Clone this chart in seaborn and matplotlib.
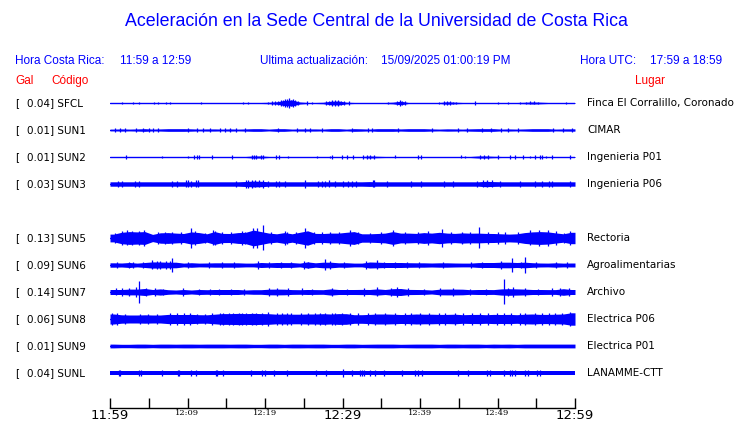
import numpy as np
import matplotlib
matplotlib.use("Agg")
import matplotlib.pyplot as plt
import seaborn as sns

# --- text content -----------------------------------------------------------
title = "Aceleración en la Sede Central de la Universidad de Costa Rica"
hora_cr = "11:59 a 12:59"
actualizacion = "15/09/2025 01:00:19 PM"
hora_utc = "17:59 a 18:59"

# one row per slot, '' is the empty slot (no SUN4)
row_codes = ['SFCL', 'SUN1', 'SUN2', 'SUN3', '', 'SUN5', 'SUN6', 'SUN7', 'SUN8', 'SUN9', 'SUNL']
gal = {'SFCL': 0.04, 'SUN1': 0.01, 'SUN2': 0.01, 'SUN3': 0.03, 'SUN5': 0.13,
       'SUN6': 0.09, 'SUN7': 0.14, 'SUN8': 0.06, 'SUN9': 0.01, 'SUNL': 0.04}
lugar = {'SFCL': 'Finca El Corralillo, Coronado', 'SUN1': 'CIMAR', 'SUN2': 'Ingenieria P01',
         'SUN3': 'Ingenieria P06', 'SUN5': 'Rectoria', 'SUN6': 'Agroalimentarias',
         'SUN7': 'Archivo', 'SUN8': 'Electrica P06', 'SUN9': 'Electrica P01',
         'SUNL': 'LANAMME-CTT'}

tick_minutes = list(range(0, 61, 5))
tick_labels = ['11:59', '', '12:09', '', '12:19', '', '12:29', '', '12:39', '', '12:49', '', '12:59']
big_labels = ['11:59', '12:29', '12:59']

# --- trace envelopes: half amplitude per minute ------------------------------
SFCL_ENV = [0.5, 0.5, 0.5, 0.5, 0.5, 0.5, 0.5, 0.5, 0.5, 0.5,
            0.5, 0.5, 0.5, 0.5, 0.5, 0.5, 0.5, 0.5, 0.5, 0.5,
            0.7, 1.2, 2.6, 3.0, 1.0, 0.5, 0.5, 0.7, 1.8, 2.0,
            0.8, 0.5, 0.5, 0.5, 0.5, 0.5, 0.8, 1.8, 0.5, 0.5,
            0.5, 0.5, 0.5, 1.2, 0.8, 0.5, 0.5, 0.5, 0.5, 0.5,
            0.5, 0.5, 0.5, 0.7, 1.0, 0.8, 0.5, 0.5, 0.5, 0.5]
SFCL_SPIKES = [(1.6, 1.4), (3.0, 1.3), (3.8, 1.3), (5.7, 1.3), (6.2, 1.4), (7.2, 1.4),
               (7.7, 1.2), (11.7, 1.4), (17.2, 1.2), (17.8, 1.3), (20.4, 1.4), (20.9, 1.6),
               (21.3, 2.0), (21.7, 2.4), (22.0, 3.4), (22.3, 3.0), (22.6, 4.2), (22.9, 3.6),
               (23.1, 4.6), (23.4, 3.2), (23.6, 3.8), (23.9, 2.6), (24.2, 2.0), (25.4, 1.6),
               (26.0, 1.2), (27.9, 1.8), (28.3, 2.4), (28.7, 2.6), (29.0, 3.0), (29.4, 2.6),
               (29.8, 2.2), (30.2, 1.6), (30.8, 1.6), (35.9, 1.3), (37.0, 2.4), (37.4, 2.8),
               (37.7, 2.4), (38.0, 1.6), (42.4, 1.3), (43.1, 1.8), (43.5, 2.0), (43.9, 1.6),
               (44.2, 1.4), (44.7, 1.4), (47.1, 1.6), (50.1, 1.3), (51.4, 1.3), (52.9, 1.2),
               (53.7, 1.4), (54.2, 1.5), (54.7, 1.5), (55.2, 1.4), (58.9, 1.2)]

SUN1_ENV = [0.8, 1.0, 0.8, 1.0, 1.3, 0.8, 1.0, 1.3, 1.3, 1.3,
            1.1, 0.8, 1.0, 1.0, 0.8, 1.0, 0.8, 1.0, 1.3, 1.3,
            0.8, 1.3, 1.3, 0.8, 1.0, 1.0, 1.0, 0.8, 1.3, 1.3,
            0.8, 1.3, 1.1, 0.8, 1.3, 1.3, 1.3, 1.0, 1.3, 1.3,
            1.3, 1.0, 0.8, 1.1, 1.0, 0.8, 1.1, 1.3, 1.3, 1.3,
            0.8, 1.0, 0.8, 1.0, 1.3, 1.3, 1.3, 0.8, 1.0, 1.1]
SUN1_SPIKES = [(0.6, 1.7), (1.3, 1.7), (1.9, 1.7), (3.4, 1.7), (4.2, 2.1), (5.0, 1.7),
               (5.5, 1.7), (6.2, 1.7), (10.1, 1.7), (11.2, 1.7), (12.0, 1.7), (12.9, 1.7),
               (14.2, 1.7), (14.8, 1.7), (15.5, 1.7), (16.3, 1.7), (17.4, 1.7), (21.7, 1.8),
               (24.1, 1.7), (25.1, 1.7), (25.8, 1.7), (27.3, 1.7), (31.2, 1.8), (33.3, 1.7),
               (33.8, 1.7), (37.2, 1.7), (41.5, 1.7), (44.9, 1.7), (46.0, 1.7), (48.0, 1.7),
               (49.2, 1.9), (50.5, 1.7), (51.4, 1.7), (52.7, 1.7), (57.2, 1.7), (58.5, 1.7),
               (59.6, 1.7)]

SUN2_ENV = [0.5, 0.5, 0.5, 0.5, 0.5, 0.5, 0.5, 0.5, 0.5, 0.5,
            0.5, 0.5, 0.5, 0.5, 0.5, 0.5, 0.5, 0.5, 1.0, 1.0,
            0.5, 0.5, 0.5, 0.5, 0.5, 0.5, 0.5, 0.5, 0.5, 0.5,
            0.5, 0.5, 0.5, 1.0, 0.7, 0.5, 0.5, 0.5, 0.5, 0.5,
            0.5, 0.5, 0.5, 0.5, 0.5, 0.5, 0.5, 1.0, 1.0, 0.7,
            0.5, 0.5, 0.5, 0.5, 0.5, 0.5, 0.5, 0.5, 0.5, 0.5]
SUN2_SPIKES = [(2.0, 1.8), (6.7, 1.2), (10.1, 1.3), (10.9, 1.8), (11.2, 1.8), (11.5, 1.8),
               (13.2, 1.8), (15.7, 1.8), (18.3, 1.9), (18.6, 1.9), (18.9, 1.6), (19.5, 1.9),
               (19.8, 1.9), (21.4, 1.8), (21.8, 1.8), (23.0, 1.2), (26.7, 1.3), (28.4, 1.3),
               (28.6, 1.6), (29.9, 1.6), (30.6, 1.8), (31.4, 1.9), (32.7, 1.8), (33.1, 1.6),
               (33.6, 1.9), (34.0, 1.9), (36.8, 1.5), (39.8, 1.8), (40.1, 1.6), (45.3, 1.5),
               (45.8, 1.2), (47.8, 1.9), (48.3, 1.9), (48.8, 1.9), (50.1, 1.8), (51.6, 1.8),
               (52.3, 1.6), (53.3, 1.8), (54.2, 1.3), (54.8, 1.8), (55.5, 1.8), (55.7, 1.8),
               (56.3, 1.3), (57.0, 1.8), (59.4, 1.6)]

SUN3_ENV = [2.2, 2.2, 2.2, 2.2, 2.2, 2.2, 2.2, 2.2, 2.2, 2.2,
            2.2, 2.2, 2.2, 2.2, 2.2, 2.2, 2.2, 2.5, 2.9, 2.7,
            2.2, 2.2, 2.2, 2.2, 2.2, 2.2, 2.2, 2.2, 2.2, 2.2,
            2.2, 2.2, 2.2, 2.4, 2.2, 2.2, 2.2, 2.2, 2.2, 2.2,
            2.2, 2.2, 2.2, 2.2, 2.2, 2.2, 2.2, 2.2, 2.7, 2.4,
            2.2, 2.2, 2.2, 2.2, 2.2, 2.2, 2.2, 2.2, 2.2, 2.2]
SUN3_SPIKES = [(1.0, 3.3), (1.5, 3.3), (3.2, 3.2), (3.7, 3.3), (8.0, 3.0), (8.7, 3.3),
               (9.8, 3.5), (10.0, 3.5), (10.5, 3.3), (11.1, 3.5), (11.4, 3.5), (16.3, 3.3),
               (17.5, 3.6), (17.8, 3.6), (18.3, 4.0), (18.7, 3.5), (19.2, 3.5), (19.7, 3.6),
               (20.4, 3.0), (21.4, 3.3), (21.8, 3.3), (22.6, 3.3), (25.2, 3.6), (26.9, 3.3),
               (27.3, 3.3), (27.7, 3.3), (28.3, 3.5), (29.0, 3.0), (30.0, 3.3), (30.7, 3.3),
               (31.2, 3.3), (31.8, 3.0), (33.9, 3.5), (34.1, 3.5), (35.8, 3.3), (38.9, 3.3),
               (40.1, 3.3), (43.1, 3.3), (44.2, 3.3), (47.4, 3.3), (48.1, 3.5), (48.7, 3.5),
               (49.3, 3.5), (50.3, 3.3), (52.9, 3.3), (54.8, 3.3), (55.7, 3.3), (56.6, 3.3),
               (57.0, 3.3), (59.4, 3.3)]

SUN5_ENV = [3.9, 5.7, 6.4, 6.1, 6.4, 3.6, 5.2, 5.4, 4.9, 4.5,
            6.1, 5.4, 4.2, 6.4, 4.6, 4.5, 5.4, 5.7, 7.9, 6.4,
            4.9, 4.2, 5.4, 4.2, 5.7, 7.2, 4.6, 4.5, 4.9, 4.9,
            5.7, 6.4, 4.2, 4.2, 4.5, 4.9, 6.4, 4.9, 4.9, 4.6,
            5.4, 4.9, 5.7, 4.9, 4.6, 5.1, 4.8, 4.9, 4.6, 4.5,
            4.2, 3.9, 4.2, 5.4, 6.1, 6.4, 6.1, 5.1, 4.2, 5.7]
SUN5_SPIKES = [(0.6, 5.2), (1.5, 6.7), (2.2, 7.5), (2.8, 6.9), (3.7, 6.7), (4.4, 8.2),
               (6.2, 6.1), (7.1, 6.4), (8.0, 6.0), (9.2, 5.6), (10.5, 9.7), (11.0, 6.7),
               (12.2, 5.2), (13.3, 7.5), (13.5, 7.2), (14.4, 6.1), (15.6, 5.6), (17.0, 6.9),
               (17.4, 6.4), (18.5, 10.2), (19.0, 10.2), (19.8, 12.5), (20.8, 6.0), (22.6, 6.9),
               (22.8, 6.4), (24.0, 6.2), (25.2, 10.0), (26.3, 5.8), (27.3, 6.1), (28.4, 5.8),
               (29.5, 6.1), (31.0, 7.9), (32.0, 5.7), (33.6, 5.4), (35.0, 5.8), (36.5, 8.4),
               (38.0, 6.1), (39.8, 6.1), (41.0, 7.2), (42.8, 9.0), (44.0, 5.8), (45.4, 6.4),
               (46.5, 5.8), (47.6, 10.5), (48.8, 5.6), (50.0, 6.0), (51.0, 5.7), (52.6, 5.6),
               (54.2, 7.5), (55.3, 8.4), (56.5, 8.2), (57.6, 6.6), (58.6, 5.4), (59.4, 6.9)]

SUN6_ENV = [2.2, 2.0, 2.5, 1.9, 2.5, 3.1, 3.0, 2.8, 2.8, 1.9,
            2.3, 1.9, 2.0, 2.2, 2.2, 2.2, 2.2, 1.9, 1.9, 2.5,
            2.2, 2.5, 2.4, 2.4, 1.9, 3.1, 2.2, 2.8, 2.8, 2.2,
            2.3, 1.9, 1.9, 3.0, 2.8, 2.5, 2.5, 2.5, 2.3, 2.2,
            2.2, 2.0, 2.2, 2.2, 2.0, 1.9, 1.9, 2.4, 2.5, 2.5,
            2.8, 2.8, 2.5, 2.8, 2.3, 2.0, 1.9, 2.2, 1.9, 2.0]
SUN6_SPIKES = [(0.9, 3.0), (2.4, 3.3), (3.0, 3.2), (4.2, 3.2), (5.4, 4.5), (6.0, 3.6),
               (6.5, 3.8), (7.2, 3.6), (7.8, 4.2), (8.0, 7.0), (10.0, 2.8), (12.8, 2.8),
               (14.5, 2.8), (16.0, 2.9), (19.1, 3.8), (20.5, 3.2), (22.0, 3.2), (23.4, 3.0),
               (25.0, 3.8), (25.6, 3.4), (27.7, 5.5), (28.4, 3.6), (30.2, 3.0), (33.0, 3.8),
               (34.4, 4.5), (35.3, 3.2), (36.8, 3.3), (38.3, 3.0), (39.9, 2.9), (43.0, 2.9),
               (46.6, 3.0), (48.0, 3.2), (50.5, 3.8), (51.9, 7.2), (53.0, 3.4), (53.6, 7.6),
               (55.0, 3.0), (57.6, 2.8), (59.0, 2.8)]

SUN7_ENV = [2.5, 2.5, 2.9, 2.9, 3.5, 2.5, 3.1, 2.3, 2.0, 2.5,
            2.0, 2.5, 2.3, 2.5, 2.5, 2.5, 2.5, 2.0, 2.3, 2.3,
            2.8, 2.9, 2.8, 2.4, 2.3, 2.5, 2.4, 2.3, 3.1, 2.5,
            2.5, 2.5, 2.6, 2.5, 3.1, 2.5, 3.3, 3.5, 2.6, 2.5,
            2.4, 2.0, 2.8, 2.9, 2.9, 2.8, 2.3, 2.5, 2.5, 2.4,
            3.1, 3.3, 3.1, 2.9, 2.5, 2.5, 2.4, 2.4, 3.3, 2.5]
SUN7_SPIKES = [(0.8, 3.5), (1.6, 3.6), (2.4, 3.8), (3.4, 5.0), (3.75, 11.0), (4.6, 4.0),
               (5.8, 4.2), (6.8, 3.2), (9.4, 3.6), (11.5, 3.3), (12.9, 3.4), (14.0, 3.4),
               (15.6, 3.3), (17.3, 3.2), (20.5, 4.0), (21.6, 3.8), (23.0, 3.6), (24.8, 3.5),
               (26.0, 3.4), (28.6, 4.2), (30.6, 3.4), (32.8, 3.6), (34.5, 4.5), (36.2, 4.2),
               (37.0, 4.8), (38.4, 3.6), (40.5, 3.2), (42.6, 3.8), (44.2, 3.8), (46.5, 3.3),
               (48.5, 3.4), (50.8, 12.5), (51.4, 4.2), (52.0, 5.0), (53.6, 3.6), (55.2, 3.4),
               (57.0, 3.6), (58.0, 4.4), (59.2, 3.6)]

SUN8_ENV = [5.0, 4.2, 4.0, 4.0, 4.2, 4.0, 4.0, 4.6, 4.5, 4.5,
            4.6, 4.3, 4.2, 4.8, 5.4, 5.4, 5.6, 5.4, 5.6, 5.4,
            5.3, 4.8, 5.0, 4.8, 4.8, 5.0, 5.0, 5.3, 5.0, 5.4,
            5.3, 4.3, 4.3, 4.6, 5.0, 5.0, 4.8, 4.5, 4.6, 5.0,
            4.8, 4.8, 4.6, 4.6, 4.8, 4.3, 4.5, 4.6, 4.3, 4.6,
            4.5, 4.6, 4.3, 4.8, 5.0, 4.6, 4.6, 4.8, 5.0, 6.2]
SUN8_SPIKES = [(0.2, 6.0), (0.9, 6.0), (1.9, 5.2), (3.9, 5.2), (4.9, 5.2), (6.0, 5.2),
               (7.7, 5.6), (8.6, 5.6), (9.5, 5.6), (10.3, 5.6), (11.2, 5.4), (12.3, 5.4),
               (13.1, 5.6), (14.2, 6.4), (14.6, 6.4), (15.3, 6.4), (15.9, 6.4), (16.6, 6.4),
               (17.0, 6.4), (17.6, 6.4), (18.3, 6.4), (18.9, 6.4), (19.6, 6.4), (20.4, 6.6),
               (21.5, 6.0), (22.2, 6.0), (22.8, 6.0), (23.4, 6.0), (24.7, 6.0), (25.6, 6.0),
               (26.5, 6.0), (27.1, 6.0), (27.7, 6.0), (28.6, 6.2), (29.0, 6.0), (29.9, 6.4),
               (31.0, 5.6), (32.0, 5.6), (33.3, 5.8), (34.2, 5.8), (35.5, 6.0), (36.8, 6.2),
               (38.1, 5.8), (38.9, 5.8), (40.0, 5.8), (41.1, 5.8), (42.4, 5.8), (43.2, 5.8),
               (44.5, 5.6), (45.6, 5.6), (46.7, 5.6), (47.7, 5.6), (48.8, 5.6), (49.9, 5.6),
               (50.8, 5.6), (51.8, 5.6), (52.9, 5.6), (53.5, 5.8), (54.8, 6.2), (55.7, 5.6),
               (56.6, 5.6), (57.4, 5.8), (58.3, 5.8), (59.4, 6.8)]

SUN9_ENV = [1.9, 1.7, 1.7, 1.9, 1.9, 1.7, 1.9, 1.9, 1.8, 1.9,
            1.9, 1.8, 1.9, 1.9, 1.9, 1.8, 1.9, 1.9, 1.7, 1.7,
            1.9, 1.9, 1.7, 1.9, 1.9, 1.8, 1.9, 1.9, 1.7, 1.7,
            1.9, 1.9, 1.7, 1.8, 1.9, 1.9, 1.9, 1.7, 1.8, 1.9,
            1.9, 1.9, 1.7, 1.9, 1.9, 1.8, 1.9, 1.9, 1.7, 1.9,
            1.8, 1.9, 1.7, 1.9, 1.9, 1.9, 1.9, 1.9, 1.9, 1.9]
SUN9_SPIKES = []

SUNL_ENV = [2.0] * 60
SUNL_SPIKES = [(1.16, 2.7), (1.29, 2.7), (3.78, 2.7), (3.96, 2.7), (6.75, 2.7), (8.73, 2.7),
               (8.9, 2.7), (10.45, 2.7), (11.1, 2.7), (13.7, 2.7), (13.85, 2.7), (14.6, 2.7),
               (18.2, 2.7), (19.66, 2.7), (20.0, 2.7), (21.1, 2.7), (22.9, 2.7), (26.6, 2.7),
               (27.9, 2.7), (30.1, 3.6), (31.2, 2.7), (32.3, 2.7), (32.5, 2.7), (32.8, 2.7),
               (33.5, 2.7), (34.2, 2.7), (35.4, 3.0), (37.7, 2.7), (39.4, 2.7), (39.8, 2.7),
               (40.3, 2.7), (44.9, 2.7), (46.2, 2.7), (48.7, 2.7), (49.0, 2.7), (50.9, 2.7),
               (51.6, 2.7), (51.9, 2.7), (52.3, 2.7), (53.6, 2.7), (53.9, 2.7), (55.1, 2.7),
               (55.5, 2.7)]

traces = {'SFCL': (SFCL_ENV, SFCL_SPIKES), 'SUN1': (SUN1_ENV, SUN1_SPIKES),
          'SUN2': (SUN2_ENV, SUN2_SPIKES), 'SUN3': (SUN3_ENV, SUN3_SPIKES),
          'SUN5': (SUN5_ENV, SUN5_SPIKES), 'SUN6': (SUN6_ENV, SUN6_SPIKES),
          'SUN7': (SUN7_ENV, SUN7_SPIKES), 'SUN8': (SUN8_ENV, SUN8_SPIKES),
          'SUN9': (SUN9_ENV, SUN9_SPIKES), 'SUNL': (SUNL_ENV, SUNL_SPIKES)}

# --- figure -----------------------------------------------------------------
W, H = 740, 423
BLUE = '#0000ff'
RED = '#ff0000'

sns.set_theme(style='white')
plt.rcParams['font.family'] = ['DejaVu Sans']

fig = plt.figure(figsize=(W / 100, H / 100), dpi=100)
fig.patch.set_facecolor('white')

# axes in pixel units vertically: row centres at 103 + 27*k
ax = fig.add_axes([110 / W, 1 - 408 / H, 465 / W, (408 - 90) / H])
ax.set_facecolor('white')
ax.set_xlim(0, 60)
ax.set_ylim(408, 90)


def put(x, y, s, **kw):
    fig.text(x / W, 1 - y / H, s, va='center', **kw)


for k, code in enumerate(row_codes):
    if not code:
        continue
    y0 = 103 + 27 * k
    env, spikes = traces[code]
    # minute values sit at the centre of each minute, held flat to the ends
    env = np.concatenate([[env[0]], env, [env[-1]]])
    t = np.concatenate([[0], np.arange(60) + 0.5, [60]])
    ax.fill_between(t, y0 - env, y0 + env, color=BLUE, lw=0)
    if spikes:
        st = [s[0] for s in spikes]
        sa = np.array([s[1] for s in spikes])
        ax.vlines(st, y0 - sa, y0 + sa, colors=BLUE, lw=0.9)
    sns.lineplot(x=[0, 60], y=[y0, y0], ax=ax, color=BLUE, lw=1)

    put(15, y0, '[', fontsize=7.5, color='black')
    put(27, y0, f'{gal[code]:.2f}] {code}', fontsize=7.5, color='black')
    put(587, y0, lugar[code], fontsize=7.5, color='black')

# time axis
sns.despine(ax=ax, left=True, top=True, right=True)
ax.spines['bottom'].set_color('black')
ax.spines['bottom'].set_linewidth(1)
ax.set_yticks([])
ax.set_xticks(tick_minutes)
ax.set_xticklabels(tick_labels)
ax.tick_params(axis='x', bottom=True, direction='in', length=7, width=1,
               color='black', pad=1)
for lab in ax.get_xticklabels():
    if lab.get_text() in big_labels:
        lab.set_fontsize(9.5)
        lab.set_family('DejaVu Sans')
    else:
        lab.set_fontsize(6)
        lab.set_family('DejaVu Serif')
    lab.set_color('black')

# header texts
put(376, 22, title, fontsize=12.8, color=BLUE, family='Liberation Sans', ha='center')
put(15, 61, 'Hora Costa Rica:', fontsize=8.5, color=BLUE, family='Liberation Sans')
put(120, 61, hora_cr, fontsize=8.5, color=BLUE, family='Liberation Sans')
put(260, 61, 'Ultima actualización:', fontsize=8.5, color=BLUE, family='Liberation Sans')
put(381, 61, actualizacion, fontsize=8.5, color=BLUE, family='Liberation Sans')
put(580, 61, 'Hora UTC:', fontsize=8.5, color=BLUE, family='Liberation Sans')
put(650, 61, hora_utc, fontsize=8.5, color=BLUE, family='Liberation Sans')
put(15, 81, 'Gal', fontsize=8.5, color=RED, family='Liberation Sans')
put(51, 81, 'Código', fontsize=8.5, color=RED, family='Liberation Sans')
put(635, 81, 'Lugar', fontsize=8.5, color=RED, family='Liberation Sans')

fig.savefig('out.png', dpi=100, facecolor='white')
